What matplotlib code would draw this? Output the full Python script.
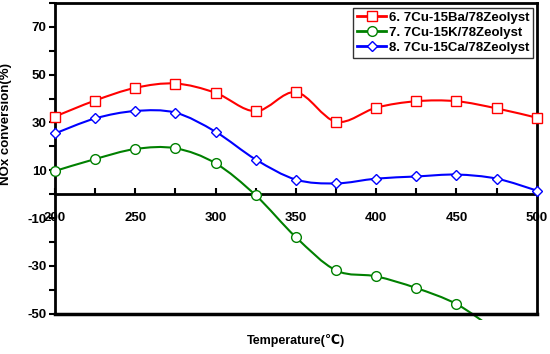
import matplotlib.pyplot as plt
from matplotlib.path import Path
from matplotlib.patches import PathPatch, Rectangle
import numpy as np

plt.rcParams['font.family'] = ['Liberation Sans', 'DejaVu Sans']
plt.rcParams['font.weight'] = 'bold'
plt.rcParams['axes.unicode_minus'] = False

temps = [200, 225, 250, 275, 300, 325, 350, 375, 400, 425, 450, 475, 500]
ba = [32.5, 39.2, 44.5, 46.3, 42.4, 34.7, 42.7, 30.3, 36.2, 38.9, 38.9, 35.9, 32.0]
k = [9.7, 14.7, 18.9, 19.2, 12.9, -0.5, -18.0, -31.9, -34.4, -39.3, -46.0, -57.0, -66.0]
ca = [25.4, 31.7, 34.8, 34.1, 26.1, 14.5, 6.1, 4.5, 6.5, 7.4, 8.2, 6.5, 1.5]

labels = ['6. 7Cu-15Ba/78Zeolyst', '7. 7Cu-15K/78Zeolyst', '8. 7Cu-15Ca/78Zeolyst']
colors = ['#FF0000', '#008000', '#0000FF']
markers = ['s', 'o', 'D']


def smooth_path(x, y):
    # catmull-rom style smoothing like the spreadsheet "smoothed line"
    pts = np.column_stack([x, y]).astype(float)
    n = len(pts)
    verts = [pts[0]]
    codes = [Path.MOVETO]
    for i in range(n - 1):
        p0 = pts[i - 1] if i > 0 else pts[i]
        p1 = pts[i]
        p2 = pts[i + 1]
        p3 = pts[i + 2] if i + 2 < n else pts[i + 1]
        c1 = p1 + (p2 - p0) / 6.0
        c2 = p2 - (p3 - p1) / 6.0
        verts += [c1, c2, p2]
        codes += [Path.CURVE4] * 3
    return Path(verts, codes)


fig = plt.figure(figsize=(5.5, 3.54), dpi=100)
ax = fig.add_axes([0.1, 0.114, 0.876, 0.8775])

clip = Rectangle((200, -52.6), 300, 140, transform=ax.transData, visible=False)
ax.add_patch(clip)

series = [ba, k, ca]
for vals, lab, col, mk in zip(series, labels, colors, markers):
    patch = PathPatch(smooth_path(temps, vals), facecolor='none', edgecolor=col,
                      lw=1.5, zorder=3)
    ax.add_patch(patch)
    patch.set_clip_path(clip)
    ms = 5.5 if mk == 'D' else 7
    pts, = ax.plot(temps, vals, linestyle='none', marker=mk, ms=ms,
                   mfc='white', mec=col, mew=1.0, zorder=4, clip_on=False)
    vis = [(t, v) for t, v in zip(temps, vals) if v >= -50]
    pts.set_data([p[0] for p in vis], [p[1] for p in vis])
    ax.plot([], [], color=col, lw=2, marker=mk, ms=ms, mfc='white', mec=col,
            label=lab)

ax.set_xlim(200, 500)
ax.set_ylim(-50, 80)
ax.set_xticks(range(200, 501, 50))
ax.set_xticks(range(200, 501, 25), minor=True)
ax.set_yticks(range(-50, 71, 20))
ax.set_yticks(range(-40, 81, 20), minor=True)

for s in ax.spines.values():
    s.set_linewidth(2)
ax.spines['bottom'].set_position(('data', 0))
ax.axhline(-50, color='black', lw=2.5, clip_on=False, zorder=5)

ax.tick_params(axis='x', which='both', direction='in', length=4, width=1.5,
               labelsize=9.5, pad=13)
ax.tick_params(axis='y', which='both', direction='out', length=4, width=1.5,
               labelsize=9.5, pad=2)

ax.set_ylabel('NOx conversion(%)', fontsize=9.5, fontweight='bold')
ax.yaxis.set_label_coords(-0.089, 0.61)
ax.text(0.5, -0.085, 'Temperature(℃)', transform=ax.transAxes, ha='center',
        va='center', fontsize=9, fontweight='bold')

leg = ax.legend(loc='upper right', bbox_to_anchor=(0.993, 0.985), fontsize=9.5,
                frameon=True, fancybox=False, edgecolor='black',
                handlelength=2.2, handletextpad=0.2, labelspacing=0.2,
                borderpad=0.3, borderaxespad=0)
leg.get_frame().set_linewidth(1)

fig.savefig('out.png', dpi=100)
